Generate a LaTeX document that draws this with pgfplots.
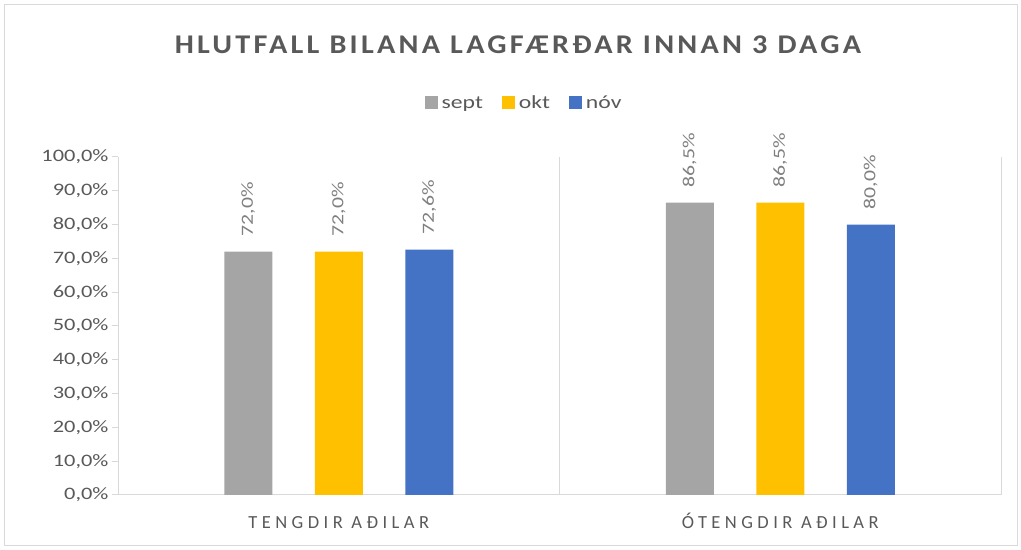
\documentclass[border=0pt]{standalone}
\usepackage{fontspec}
\setmainfont[FakeStretch=1.28]{Carlito}
\newfontfamily\titlefont[FakeStretch=1.12, LetterSpace=12]{Carlito}
\newfontfamily\catfont[LetterSpace=24]{Carlito}
\usepackage{pgfplots}
\pgfplotsset{compat=1.18}
\definecolor{cSept}{HTML}{A5A5A5}
\definecolor{cOkt}{HTML}{FFC000}
\definecolor{cNov}{HTML}{4472C4}
\definecolor{txt}{HTML}{595959}
\definecolor{lbl}{HTML}{7F7F7F}
\definecolor{grd}{HTML}{D9D9D9}
\begin{document}
\begin{tikzpicture}
\useasboundingbox (0,0) rectangle (1021bp,550bp);
\draw[grd, line width=1bp] (4bp,4bp) rectangle (1017bp,545bp);
\node[font=\titlefont\bfseries\fontsize{27bp}{30bp}\selectfont, text=txt] at (518bp,505bp) {HLUTFALL BILANA LAGFÆRÐAR INNAN 3 DAGA};
\begin{axis}[
  at={(118bp,55bp)}, anchor=south west,
  scale only axis, width=883bp, height=338bp,
  xmin=-0.5, xmax=1.5, ymin=0, ymax=100,
  axis x line=bottom, axis y line=left,
  axis line style={-, grd, line width=1bp},
  xtick={0,1}, xticklabels={TENGDIR AÐILAR, ÓTENGDIR AÐILAR},
  x tick label style={font=\catfont\fontsize{18.5bp}{22bp}\selectfont, text=txt, anchor=north, inner sep=0pt, text height=12bp, text depth=0bp, yshift=-15bp},
  xtick style={draw=none},
  extra x ticks={-0.5,0.5,1.5}, extra x tick labels={},
  extra x tick style={grid=major, major tick length=7bp, tick align=outside, tick style={grd, line width=1bp}},
  major grid style={grd, line width=1bp},
  ytick={0,10,...,100},
  yticklabel={\pgfmathprintnumber[fixed,fixed zerofill,precision=1,use comma]{\tick}\%},
  y tick label style={font=\fontsize{17.5bp}{21bp}\selectfont, text=txt},
  /pgf/number format/assume math mode=true,
  ytick style={grd, line width=1bp}, tick align=outside, major tick length=6bp,
  ybar, bar width=48bp,
  nodes near coords={\pgfmathprintnumber[fixed,fixed zerofill,precision=1,use comma]{\pgfplotspointmeta}\%},
  every node near coord/.append style={rotate=90, anchor=west, font=\fontsize{17bp}{20bp}\selectfont, text=lbl, xshift=12bp},
  legend columns=3,
  legend style={at={(0.461,1.16)}, anchor=center, draw=none, font=\fontsize{18.5bp}{22bp}\selectfont, text=txt, inner sep=0pt,
    nodes={inner xsep=3.5bp}, /tikz/every even column/.append style={column sep=16bp}},
  legend image code/.code={\fill[#1] (0bp,-6.5bp) rectangle (13bp,6.5bp);},
  clip=false,
]
\addplot[fill=cSept, draw=none, bar shift=-90.5bp] coordinates {(0,72.0) (1,86.5)};
\addplot[fill=cOkt, draw=none, bar shift=0bp] coordinates {(0,72.0) (1,86.5)};
\addplot[fill=cNov, draw=none, bar shift=90.5bp] coordinates {(0,72.6) (1,80.0)};
\legend{sept,okt,nóv}
\end{axis}
\end{tikzpicture}
\end{document}
